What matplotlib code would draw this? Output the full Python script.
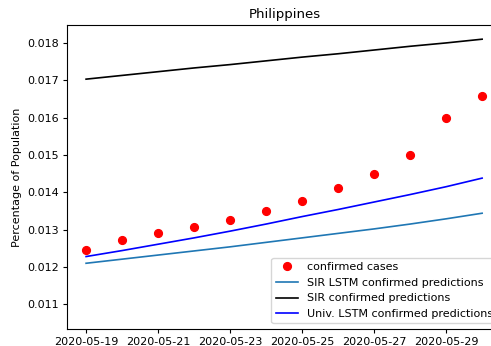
import datetime as dt
import matplotlib
matplotlib.use("Agg")
import matplotlib.pyplot as plt
import matplotlib.dates as mdates

# Daily dates for the forecast window
start = dt.date(2020, 5, 19)
dates = [start + dt.timedelta(days=i) for i in range(12)]

# Confirmed cases as percentage of population
confirmed = [0.01246, 0.01272, 0.01292, 0.01308, 0.01326, 0.01351,
             0.01378, 0.01411, 0.01448, 0.01500, 0.01600, 0.01657]

# Model predictions
sir_lstm = [0.01210, 0.01221, 0.01232, 0.01243, 0.01254, 0.01266,
            0.01278, 0.01290, 0.01302, 0.01315, 0.01329, 0.01344]
sir = [0.01703, 0.01713, 0.01723, 0.01733, 0.01742, 0.01752,
       0.01762, 0.01771, 0.01781, 0.01791, 0.01800, 0.01810]
univ_lstm = [0.01228, 0.01244, 0.01261, 0.01278, 0.01296, 0.01315,
             0.01335, 0.01354, 0.01374, 0.01394, 0.01415, 0.01438]

plt.rcParams.update({
    "font.size": 8,
    "axes.linewidth": 0.8,
    "xtick.major.size": 2.8,
    "ytick.major.size": 2.8,
    "xtick.major.width": 0.8,
    "ytick.major.width": 0.8,
    "xtick.major.pad": 2.8,
    "ytick.major.pad": 2.8,
})

fig = plt.figure(figsize=(4.91, 3.46), dpi=100)
ax = fig.add_axes([67 / 491, 1 - 329 / 346, (503 - 67) / 491, (329 - 25) / 346])

ax.plot(dates, confirmed, "o", color="red", markersize=5.6, label="confirmed cases")
ax.plot(dates, sir_lstm, color="#1f77b4", linewidth=1.2, label="SIR LSTM confirmed predictions")
ax.plot(dates, sir, color="black", linewidth=1.2, label="SIR confirmed predictions")
ax.plot(dates, univ_lstm, color="blue", linewidth=1.2, label="Univ. LSTM confirmed predictions")

x0 = mdates.date2num(dates[0])
ax.set_xlim(x0 - 0.53, x0 + 11.58)
ax.set_ylim(0.01034, 0.01848)
ax.set_yticks([0.011, 0.012, 0.013, 0.014, 0.015, 0.016, 0.017, 0.018])
ax.set_xticks(dates[0::2])
ax.xaxis.set_major_formatter(mdates.DateFormatter("%Y-%m-%d"))

ax.set_title("Philippines", fontsize=9.6, pad=4.8)
ax.set_ylabel("Percentage of Population", fontsize=8)
ax.legend(loc="lower right", fontsize=8)

fig.savefig("out.png", dpi=100)
